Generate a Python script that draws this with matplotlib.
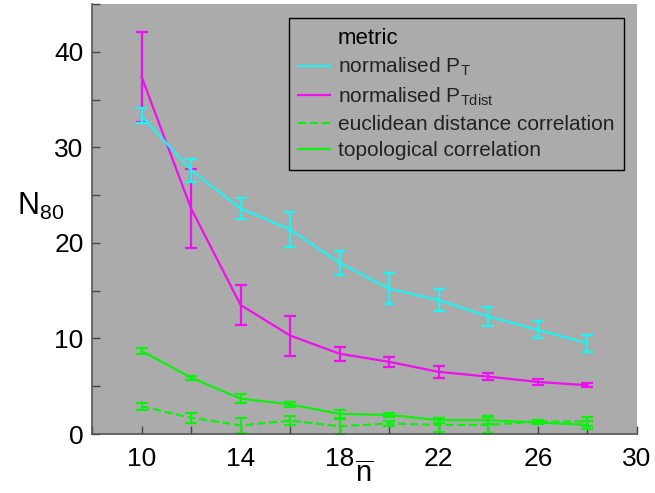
import matplotlib
matplotlib.use("Agg")
import matplotlib.pyplot as plt
from matplotlib.lines import Line2D
from matplotlib.ticker import FixedLocator, MultipleLocator

plt.rcParams["font.family"] = ["Liberation Sans", "DejaVu Sans"]
plt.rcParams["mathtext.fontset"] = "custom"
plt.rcParams["mathtext.rm"] = "Liberation Sans"
plt.rcParams["mathtext.it"] = "Liberation Sans"

n_bar = [10, 12, 14, 16, 18, 20, 22, 24, 26, 28]

pt_mean = [33.3, 27.6, 23.6, 21.4, 17.9, 15.2, 14.0, 12.3, 10.9, 9.5]
pt_err = [0.8, 1.2, 1.05, 1.8, 1.3, 1.6, 1.15, 1.0, 0.9, 0.9]

ptd_mean = [37.4, 23.6, 13.5, 10.3, 8.4, 7.55, 6.5, 6.0, 5.45, 5.1]
ptd_err = [4.7, 4.1, 2.05, 2.1, 0.75, 0.5, 0.6, 0.4, 0.3, 0.2]

euc_mean = [2.9, 1.7, 0.9, 1.4, 0.8, 1.1, 0.95, 0.95, 1.3, 1.3]
euc_err = [0.35, 0.55, 0.75, 0.45, 0.8, 0.3, 0.7, 0.8, 0.2, 0.5]

top_mean = [8.7, 5.9, 3.7, 3.1, 2.1, 2.0, 1.45, 1.45, 1.2, 0.95]
top_err = [0.3, 0.2, 0.5, 0.3, 0.45, 0.2, 0.25, 0.4, 0.2, 0.4]

x_labelled = [10, 14, 18, 22, 26, 30]

CYAN = "#1ff2f2"
MAG = "#ee10ee"
GREEN = "#10f010"

fig = plt.figure(figsize=(6.55, 4.93), dpi=100)
ax = fig.add_axes([92 / 655, 1 - 434 / 493, 545 / 655, 430 / 493])
ax.set_facecolor("#ababab")

kw = dict(lw=1.6, capsize=4, capthick=1.6, elinewidth=1.6)
ax.errorbar(n_bar, ptd_mean, yerr=ptd_err, color=MAG, **kw)
ax.errorbar(n_bar, pt_mean, yerr=pt_err, color=CYAN, **kw)
ax.errorbar(n_bar, top_mean, yerr=top_err, color=GREEN, **kw)
ax.errorbar(n_bar, euc_mean, yerr=euc_err, color=GREEN, ls="--", **kw)

ax.set_xlim(8, 30)
ax.set_ylim(0, 45)
ax.xaxis.set_major_locator(FixedLocator(x_labelled))
ax.xaxis.set_minor_locator(MultipleLocator(2))
ax.yaxis.set_major_locator(MultipleLocator(10))
ax.yaxis.set_minor_locator(MultipleLocator(5))
ax.tick_params(which="both", direction="in", color="#444444", labelsize=19, width=1, length=6)
ax.tick_params(axis="x", pad=9)
ax.tick_params(axis="y", pad=6)
for s in ("top", "right"):
    ax.spines[s].set_visible(False)
for s in ("left", "bottom"):
    ax.spines[s].set_color("#555555")
    ax.spines[s].set_linewidth(1.2)

ax.set_xlabel("$\\overline{\\mathrm{n}}$", fontsize=21, labelpad=-7)
ax.set_ylabel("N$_{\\mathrm{80}}$", fontsize=22, rotation=0, va="center")
ax.yaxis.set_label_coords(-0.095, 0.53)

# "metric" als unsichtbarer erster Eintrag, damit er mit den Texten bündig ist
handles = [
    Line2D([], [], color="none"),
    Line2D([], [], color=CYAN, lw=1.6),
    Line2D([], [], color=MAG, lw=1.6),
    Line2D([], [], color=GREEN, lw=1.6, ls="--"),
    Line2D([], [], color=GREEN, lw=1.6),
]
labels = ["metric", "normalised P$_\\mathrm{T}$", "normalised P$_\\mathrm{Tdist}$",
          "euclidean distance correlation", "topological correlation"]
leg = ax.legend(handles, labels, loc="upper right", bbox_to_anchor=(0.976, 0.967),
                borderaxespad=0, fontsize=15, handlelength=1.5, handletextpad=0.4,
                facecolor="#ababab", edgecolor="black", framealpha=1, fancybox=False,
                labelspacing=0.35, borderpad=0.45)
leg.get_frame().set_linewidth(1.0)
leg.get_texts()[0].set_fontsize(16)
for t in leg.get_texts()[1:]:
    t.set_color("#222222")

fig.savefig("out.png", dpi=100)
